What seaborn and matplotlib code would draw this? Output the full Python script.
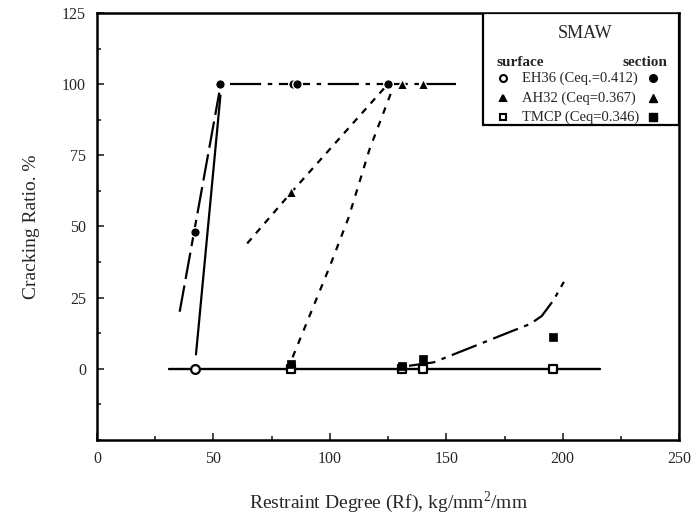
import numpy as np
import pandas as pd
import matplotlib
matplotlib.use("Agg")
import matplotlib.pyplot as plt
import seaborn as sns
from matplotlib.ticker import MultipleLocator
from matplotlib.patches import Rectangle

# measured points (restraint degree, cracking ratio)
eh36_surf_x = [42]
eh36_surf_y = [0]
eh36_sec_x = [42, 53, 84, 86, 125]
eh36_sec_y = [48, 100, 100, 100, 100]
ah32_sec_x = [83.5, 131, 140]
ah32_sec_y = [62, 100, 100]
tmcp_surf_x = [83.5, 131, 140, 196]
tmcp_surf_y = [0, 0, 0, 0]
tmcp_sec_x = [83.5, 131, 140, 196]
tmcp_sec_y = [1.5, 1, 3.5, 11]

# hand drawn trend curves
eh36_surf_line_x = [42.5, 53]
eh36_surf_line_y = [5, 96]
eh36_sec_line_x = [35.5, 52.5]
eh36_sec_line_y = [20, 97]
top_line_x = [57, 154]
top_line_y = [100, 100]
ah32_sec_line_x = [64.5, 83.5, 126]
ah32_sec_line_y = [44, 62, 101]
ah32_surf_line_x = [84, 92, 100, 108, 117, 127]
ah32_surf_line_y = [4, 20, 36, 53, 77, 98.5]
zero_line_x = [31, 216]
zero_line_y = [0, 0]
tmcp_line_x = [134, 144.5, 164.5, 177, 186, 191, 196, 200.5]
tmcp_line_y = [1, 2.2, 8.7, 12.8, 15.7, 18.5, 24, 30.5]

sns.set_style("ticks")
plt.rcParams['font.family'] = ['Liberation Serif', 'DejaVu Serif']
plt.rcParams['mathtext.fontset'] = 'custom'
plt.rcParams['mathtext.rm'] = 'Liberation Serif'

fig = plt.figure(figsize=(6.93, 5.18), dpi=100)
ax = fig.add_axes([0.140, 0.151, 0.840, 0.824])

def trend(xs, ys, ls, lw=1.6):
    sns.lineplot(x=xs, y=ys, ax=ax, color='black', linewidth=lw,
                 linestyle=ls, sort=False, estimator=None)

trend(zero_line_x, zero_line_y, '-', 1.7)
trend(eh36_surf_line_x, eh36_surf_line_y, '-')
trend(eh36_sec_line_x, eh36_sec_line_y, (0, (12, 3)))
trend(top_line_x, top_line_y, (0, (14, 3, 2, 3)))
trend(ah32_sec_line_x, ah32_sec_line_y, (0, (3, 3)))
trend(ah32_surf_line_x, ah32_surf_line_y, (0, (3, 3.5)))
trend(tmcp_line_x, tmcp_line_y, (0, (12, 3, 2, 3)))

ms = 48
sns.scatterplot(x=tmcp_surf_x, y=tmcp_surf_y, ax=ax, marker='s', s=ms - 8,
                facecolor='white', edgecolor='black', linewidth=1.6, zorder=4)
sns.scatterplot(x=tmcp_sec_x, y=tmcp_sec_y, ax=ax, marker='s', s=ms - 8,
                color='black', edgecolor='black', zorder=5)
sns.scatterplot(x=eh36_surf_x, y=eh36_surf_y, ax=ax, marker='o', s=ms - 8,
                facecolor='white', edgecolor='black', linewidth=1.6, zorder=4)
sns.scatterplot(x=eh36_sec_x, y=eh36_sec_y, ax=ax, marker='o', s=ms,
                color='black', edgecolor='white', linewidth=1.0, zorder=5)
sns.scatterplot(x=ah32_sec_x, y=ah32_sec_y, ax=ax, marker='^', s=ms + 8,
                color='black', edgecolor='white', linewidth=1.0, zorder=5)

ax.set_xlim(0, 250)
ax.set_ylim(-25, 125)
ax.set_xticks([0, 50, 100, 150, 200, 250])
ax.set_yticks([0, 25, 50, 75, 100, 125])
ax.xaxis.set_minor_locator(MultipleLocator(25))
ax.yaxis.set_minor_locator(MultipleLocator(12.5))
ax.tick_params(which='both', direction='in', top=False, right=False,
               width=1.2, labelsize=11.5, pad=8)
ax.tick_params(which='major', length=5)
ax.tick_params(which='minor', length=3)
for sp in ax.spines.values():
    sp.set_visible(True)
    sp.set_linewidth(1.8)
    sp.set_color('black')

ax.set_xlabel('Restraint Degree (Rf), kg/mm$^{2}$/mm', fontsize=14, labelpad=16)
ax.set_ylabel('Cracking Ratio. %', fontsize=14, labelpad=16)

# legend box
ax.add_patch(Rectangle((0.663, 0.738), 0.337, 0.262, transform=ax.transAxes,
                       facecolor='white', edgecolor='black', linewidth=1.6, zorder=6))
ax.text(0.838, 0.952, 'SMAW', transform=ax.transAxes, ha='center', va='center',
        fontsize=13, zorder=7)
ax.text(0.727, 0.885, 'surface', transform=ax.transAxes, ha='center', va='center',
        fontsize=11, fontweight='bold', zorder=7)
ax.text(0.942, 0.885, 'section', transform=ax.transAxes, ha='center', va='center',
        fontsize=11, fontweight='bold', zorder=7)
legend_rows = [
    ('EH36 (Ceq.=0.412)', 'o', 'o'),
    ('AH32 (Ceq=0.367)', '^', '^'),
    ('TMCP (Ceq=0.346)', 's', 's'),
]
row_y = [0.848, 0.801, 0.756]
for (label, m1, m2), yy in zip(legend_rows, row_y):
    open_face = 'white' if m1 != '^' else 'black'
    ax.plot([0.698], [yy], marker=m1, ms=5, mfc=open_face, mec='black', mew=1.5,
            transform=ax.transAxes, zorder=7, clip_on=False, ls='none')
    ax.text(0.730, yy, label, transform=ax.transAxes, ha='left', va='center',
            fontsize=10.5, zorder=7)
    ax.plot([0.955], [yy], marker=m2, ms=5.5, mfc='black', mec='black',
            transform=ax.transAxes, zorder=7, clip_on=False, ls='none')

fig.savefig('out.png', dpi=100, facecolor='white')
